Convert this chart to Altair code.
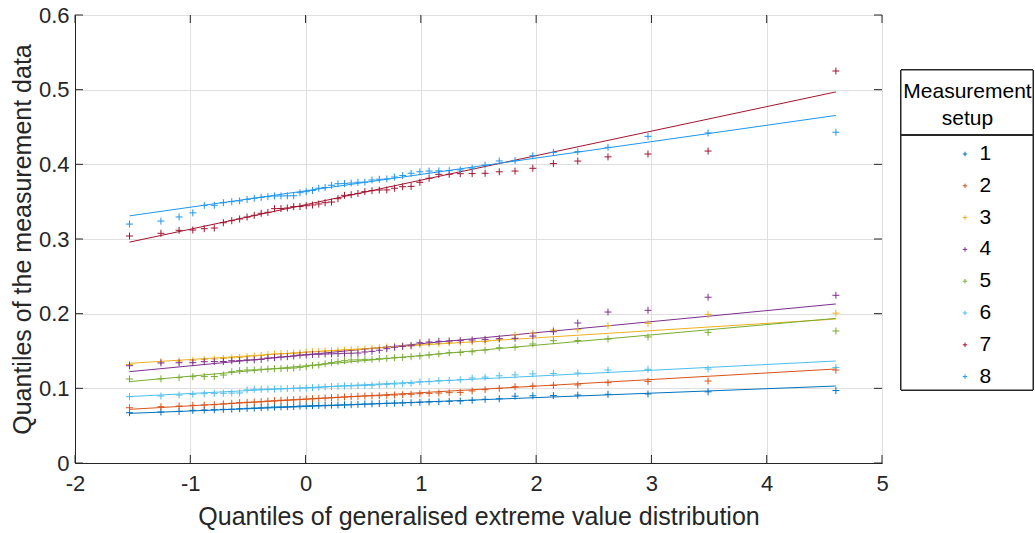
import altair as alt
import pandas as pd

# Theoretical quantiles of the fitted generalised extreme value distribution
x_q = [-1.5272, -1.2546, -1.0972, -0.9780, -0.8788, -0.7918, -0.7130, -0.6403, -0.5721, -0.5073,
       -0.4451, -0.3850, -0.3266, -0.2695, -0.2134, -0.1580, -0.1031, -0.0486, 0.0058, 0.0602,
       0.1147, 0.1696, 0.2250, 0.2810, 0.3378, 0.3955, 0.4543, 0.5144, 0.5760, 0.6394,
       0.7046, 0.7721, 0.8422, 0.9151, 0.9914, 1.0715, 1.1561, 1.2459, 1.3418, 1.4451,
       1.5572, 1.6802, 1.8170, 1.9714, 2.1496, 2.3612, 2.6232, 2.9702, 3.4913, 4.6001]

# Sorted measurement data for each setup
s1 = [0.0674, 0.0683, 0.0692, 0.0705, 0.0710, 0.0714, 0.0719, 0.0721, 0.0727, 0.0732,
      0.0737, 0.0740, 0.0746, 0.0750, 0.0752, 0.0754, 0.0756, 0.0763, 0.0765, 0.0768,
      0.0770, 0.0772, 0.0774, 0.0777, 0.0779, 0.0781, 0.0786, 0.0790, 0.0792, 0.0795,
      0.0800, 0.0802, 0.0804, 0.0808, 0.0813, 0.0817, 0.0821, 0.0826, 0.0830, 0.0840,
      0.0853, 0.0860, 0.0895, 0.0900, 0.0903, 0.0910, 0.0920, 0.0925, 0.0953, 0.0970]
s2 = [0.0740, 0.0754, 0.0763, 0.0772, 0.0777, 0.0781, 0.0790, 0.0800, 0.0808, 0.0813,
      0.0817, 0.0821, 0.0830, 0.0834, 0.0840, 0.0844, 0.0848, 0.0853, 0.0857, 0.0861,
      0.0866, 0.0870, 0.0875, 0.0880, 0.0884, 0.0888, 0.0893, 0.0897, 0.0899, 0.0901,
      0.0906, 0.0910, 0.0915, 0.0920, 0.0928, 0.0933, 0.0937, 0.0942, 0.0946, 0.0965,
      0.0982, 0.1000, 0.1022, 0.1031, 0.1040, 0.1045, 0.1076, 0.1093, 0.1098, 0.1245]
s3 = [0.1320, 0.1357, 0.1366, 0.1375, 0.1384, 0.1393, 0.1400, 0.1410, 0.1415, 0.1424,
      0.1433, 0.1440, 0.1455, 0.1460, 0.1464, 0.1466, 0.1473, 0.1477, 0.1487, 0.1490,
      0.1495, 0.1500, 0.1504, 0.1510, 0.1513, 0.1518, 0.1520, 0.1527, 0.1535, 0.1544,
      0.1553, 0.1560, 0.1567, 0.1575, 0.1585, 0.1594, 0.1600, 0.1608, 0.1615, 0.1620,
      0.1625, 0.1660, 0.1714, 0.1737, 0.1780, 0.1785, 0.1839, 0.1870, 0.1990, 0.2007]
s4 = [0.1303, 0.1340, 0.1343, 0.1344, 0.1357, 0.1358, 0.1359, 0.1370, 0.1371, 0.1380,
      0.1381, 0.1388, 0.1406, 0.1410, 0.1420, 0.1424, 0.1433, 0.1446, 0.1447, 0.1455,
      0.1456, 0.1460, 0.1462, 0.1464, 0.1469, 0.1470, 0.1473, 0.1487, 0.1495, 0.1510,
      0.1531, 0.1550, 0.1562, 0.1570, 0.1610, 0.1620, 0.1630, 0.1634, 0.1638, 0.1647,
      0.1656, 0.1665, 0.1670, 0.1700, 0.1758, 0.1875, 0.2022, 0.2045, 0.2220, 0.2246]
s5 = [0.1125, 0.1128, 0.1143, 0.1156, 0.1157, 0.1158, 0.1178, 0.1223, 0.1237, 0.1246,
      0.1247, 0.1255, 0.1259, 0.1263, 0.1264, 0.1268, 0.1272, 0.1281, 0.1290, 0.1308,
      0.1312, 0.1330, 0.1345, 0.1357, 0.1370, 0.1380, 0.1381, 0.1388, 0.1389, 0.1397,
      0.1402, 0.1410, 0.1415, 0.1424, 0.1433, 0.1446, 0.1460, 0.1477, 0.1480, 0.1490,
      0.1512, 0.1544, 0.1550, 0.1594, 0.1638, 0.1640, 0.1660, 0.1688, 0.1750, 0.1768]
s6 = [0.0888, 0.0897, 0.0910, 0.0920, 0.0928, 0.0933, 0.0934, 0.0937, 0.0938, 0.0978,
      0.0987, 0.0988, 0.0990, 0.0991, 0.0995, 0.0996, 0.1000, 0.1001, 0.1004, 0.1009,
      0.1013, 0.1018, 0.1024, 0.1027, 0.1031, 0.1032, 0.1036, 0.1037, 0.1040, 0.1049,
      0.1053, 0.1058, 0.1062, 0.1067, 0.1085, 0.1089, 0.1102, 0.1107, 0.1116, 0.1138,
      0.1150, 0.1168, 0.1180, 0.1194, 0.1200, 0.1205, 0.1245, 0.1255, 0.1258, 0.1280]
s7 = [0.3040, 0.3076, 0.3116, 0.3120, 0.3138, 0.3147, 0.3218, 0.3245, 0.3268, 0.3294,
      0.3317, 0.3344, 0.3357, 0.3406, 0.3408, 0.3415, 0.3433, 0.3435, 0.3446, 0.3455,
      0.3469, 0.3486, 0.3495, 0.3540, 0.3585, 0.3594, 0.3610, 0.3634, 0.3647, 0.3656,
      0.3657, 0.3680, 0.3700, 0.3705, 0.3759, 0.3813, 0.3866, 0.3867, 0.3875, 0.3876,
      0.3880, 0.3900, 0.3910, 0.3947, 0.4010, 0.4044, 0.4100, 0.4138, 0.4178, 0.5250]
s8 = [0.3200, 0.3240, 0.3295, 0.3350, 0.3450, 0.3452, 0.3486, 0.3500, 0.3510, 0.3530,
      0.3545, 0.3558, 0.3567, 0.3576, 0.3577, 0.3578, 0.3579, 0.3620, 0.3634, 0.3650,
      0.3680, 0.3690, 0.3720, 0.3740, 0.3742, 0.3750, 0.3760, 0.3762, 0.3790, 0.3800,
      0.3805, 0.3830, 0.3850, 0.3880, 0.3900, 0.3910, 0.3912, 0.3915, 0.3925, 0.3950,
      0.3990, 0.4045, 0.4050, 0.4115, 0.4160, 0.4170, 0.4228, 0.4375, 0.4420, 0.4430]

setups = ["1", "2", "3", "4", "5", "6", "7", "8"]
series = [s1, s2, s3, s4, s5, s6, s7, s8]

# Reference line of each setup, at the first and last theoretical quantile
line_lo = [0.0665, 0.0719, 0.1335, 0.1223, 0.1090, 0.0890, 0.2958, 0.3310]
line_hi = [0.1031, 0.1259, 0.1928, 0.2130, 0.1937, 0.1366, 0.4970, 0.4655]

colors = ["#0072BD", "#D95319", "#EDB120", "#7E2F8E", "#77AC30", "#4DBEEE", "#A2142F", "#1E96F0"]

x_ticks = [-2, -1, 0, 1, 2, 3, 4, 5]
y_ticks = [0, 0.1, 0.2, 0.3, 0.4, 0.5, 0.6]

FONT = "Liberation Sans"
INK = "#262626"
W, H = 807, 448
PLUS = "M-1,0L1,0M0,-1L0,1"

pts = pd.DataFrame([
    {"x": xv, "y": yv, "setup": s}
    for s, vals in zip(setups, series)
    for xv, yv in zip(x_q, vals)
])
lines = pd.DataFrame([
    {"x": xv, "y": yv, "setup": s}
    for s, lo, hi in zip(setups, line_lo, line_hi)
    for xv, yv in ((x_q[0], lo), (x_q[-1], hi))
])
xt = pd.DataFrame({"x": x_ticks})
yt = pd.DataFrame({"y": y_ticks})

xscale = alt.Scale(domain=[-2, 5], nice=False, zero=False)
yscale = alt.Scale(domain=[0, 0.6], nice=False, zero=False)
cscale = alt.Scale(domain=setups, range=colors)

x_axis = alt.Axis(values=x_ticks, title="Quantiles of generalised extreme value distribution",
                  labelExpr="toString(datum.value)", labelPadding=10, titlePadding=10,
                  labelFlush=False, grid=True)
y_axis = alt.Axis(values=y_ticks, title="Quantiles of the measurement data",
                  labelExpr="toString(datum.value)", labelPadding=6, titlePadding=3,
                  labelFlush=False, grid=True)

legend = alt.Legend(
    title=["Measurement", "setup"], orient="none", legendX=828.5, legendY=65.5,
    titleFont=FONT, titleFontSize=21, titleFontWeight="normal", titleColor="black",
    titleAlign="center", titleAnchor="middle", titleLineHeight=27, titlePadding=15,
    labelFont=FONT, labelFontSize=21, labelColor="black",
    symbolType=PLUS, symbolSize=20, symbolStrokeWidth=1,
    padding=0, rowPadding=9.8, symbolOffset=11, labelOffset=4,
)

X = alt.X("x:Q", scale=xscale, axis=x_axis)
Y = alt.Y("y:Q", scale=yscale, axis=y_axis)
C = alt.Color("setup:N", scale=cscale, legend=legend)

line_layer = alt.Chart(lines).mark_line(strokeWidth=1, clip=True).encode(
    x=X, y=Y, color=C, detail="setup:N",
)

point_layer = alt.Chart(pts).mark_point(shape=PLUS, filled=False, size=49, strokeWidth=1, opacity=1).encode(
    x=X, y=Y, color=C,
)

# Inward-pointing tick marks on all four sides of the box
TL = 8
tick_x_bottom = alt.Chart(xt).mark_rule(color=INK, strokeWidth=1).encode(
    x=X, y=alt.value(H), y2=alt.value(H - TL))
tick_x_top = alt.Chart(xt).mark_rule(color=INK, strokeWidth=1).encode(
    x=X, y=alt.value(0), y2=alt.value(TL))
tick_y_left = alt.Chart(yt).mark_rule(color=INK, strokeWidth=1).encode(
    y=Y, x=alt.value(0), x2=alt.value(TL))
tick_y_right = alt.Chart(yt).mark_rule(color=INK, strokeWidth=1).encode(
    y=Y, x=alt.value(W), x2=alt.value(W - TL))

# Legend frame and the rule under its title
legend_box = alt.Chart(xt).mark_rect(fill="white", stroke=INK, strokeWidth=1).encode(
    x=alt.value(826), x2=alt.value(958), y=alt.value(55), y2=alt.value(375))
legend_sep = alt.Chart(xt).mark_rule(color=INK, strokeWidth=1).encode(
    x=alt.value(826), x2=alt.value(958), y=alt.value(120))

chart = alt.layer(
    line_layer, point_layer,
    tick_x_bottom, tick_x_top, tick_y_left, tick_y_right,
    legend_box, legend_sep,
).properties(
    width=W, height=H,
    autosize=alt.AutoSizeParams(type="none"),
    padding={"left": 75, "top": 15, "right": 153, "bottom": 70},
    background="white",
).configure_view(
    stroke=INK, strokeWidth=1,
).configure_axis(
    labelFont=FONT, labelFontSize=22, labelColor=INK,
    titleFont=FONT, titleFontSize=25, titleFontWeight="normal", titleColor=INK,
    domainColor=INK, domainWidth=1, ticks=False,
    gridColor="#dfdfdf", gridWidth=1,
)

chart.save("out.html", embed_options={"renderer": "svg", "actions": False})
